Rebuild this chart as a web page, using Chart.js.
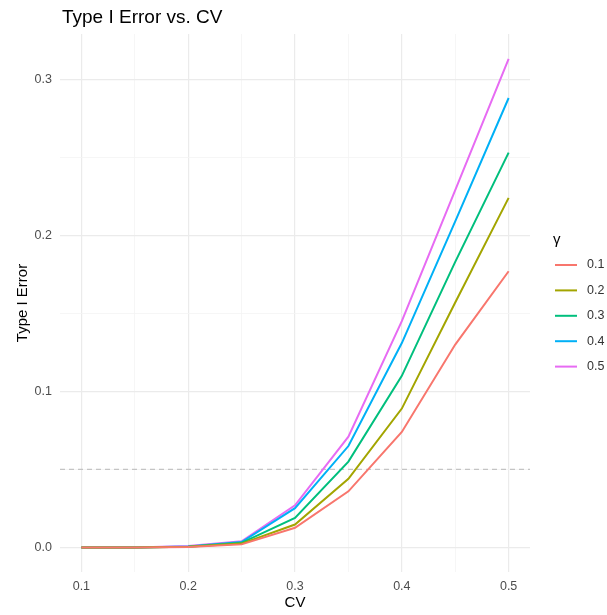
<!DOCTYPE html>
<html>
<head>
<meta charset="utf-8">
<script src="https://cdn.jsdelivr.net/npm/chart.js@4.4.0/dist/chart.umd.min.js"></script>
<style>
  html, body { margin: 0; padding: 0; background: #fff; }
</style>
</head>
<body>
<canvas id="chart" width="607" height="615"></canvas>
<script>
// values
const cv = [0.1, 0.15, 0.2, 0.25, 0.3, 0.35, 0.4, 0.45, 0.5];
const gammas = ['0.1', '0.2', '0.3', '0.4', '0.5'];
const errG1 = [0, 0, 0.0003, 0.002, 0.0126, 0.036, 0.074, 0.130, 0.177];
const errG2 = [0, 0, 0.0004, 0.0025, 0.0147, 0.044, 0.089, 0.157, 0.224];
const errG3 = [0, 0, 0.0005, 0.003, 0.019, 0.055, 0.110, 0.183, 0.253];
const errG4 = [0, 0, 0.0007, 0.0035, 0.0252, 0.065, 0.131, 0.209, 0.288];
const errG5 = [0, 0, 0.001, 0.004, 0.027, 0.071, 0.145, 0.229, 0.313];
const xTicks = [0.1, 0.15, 0.2, 0.25, 0.3, 0.35, 0.4, 0.45, 0.5];
const yTicks = [0, 0.05, 0.1, 0.15, 0.2, 0.25, 0.3];
const alpha = 0.05;

const colors = ['#F8766D', '#A3A500', '#00BF7D', '#00B0F6', '#E76BF3'];
const font = '"Liberation Sans", Arial, sans-serif';
Chart.defaults.font.family = font;

const allSeries = [errG1, errG2, errG3, errG4, errG5];

function isMajor(v) {
  return Math.abs(v * 10 - Math.round(v * 10)) < 1e-6;
}

const gridColor = ctx => isMajor(ctx.tick.value) ? '#ebebeb' : '#f4f4f4';
const gridWidth = ctx => isMajor(ctx.tick.value) ? 1.2 : 0.8;

const ggExtras = {
  id: 'ggExtras',
  beforeDatasetsDraw(chart) {
    const {ctx, chartArea, scales} = chart;
    const y = scales.y.getPixelForValue(alpha);
    ctx.save();
    ctx.strokeStyle = '#c4c4c4';
    ctx.lineWidth = 1.2;
    ctx.setLineDash([5, 4]);
    ctx.beginPath();
    ctx.moveTo(chartArea.left, y);
    ctx.lineTo(chartArea.right, y);
    ctx.stroke();
    ctx.restore();
  },
  afterDraw(chart) {
    const {ctx, chartArea} = chart;
    ctx.save();
    // title
    ctx.fillStyle = '#000';
    ctx.font = '19px ' + font;
    ctx.textBaseline = 'alphabetic';
    ctx.textAlign = 'left';
    ctx.fillText('Type I Error vs. CV', chartArea.left + 2, 23);

    // legend
    const mid = (chartArea.top + chartArea.bottom) / 2;
    const lx = chartArea.right + 23;
    ctx.textBaseline = 'middle';
    ctx.font = '15px ' + font;
    ctx.fillStyle = '#000';
    ctx.fillText('γ', lx, mid - 63);
    ctx.font = '12.5px ' + font;
    chart.data.datasets.forEach((ds, i) => {
      const y = mid - 38 + i * 25.4;
      ctx.strokeStyle = ds.borderColor;
      ctx.lineWidth = 2;
      ctx.beginPath();
      ctx.moveTo(lx + 2, y);
      ctx.lineTo(lx + 24, y);
      ctx.stroke();
      ctx.fillStyle = '#333';
      ctx.fillText(ds.label, lx + 34, y);
    });
    ctx.restore();
  }
};

new Chart(document.getElementById('chart').getContext('2d'), {
  type: 'line',
  data: {
    datasets: allSeries.map((vals, i) => ({
      label: gammas[i],
      data: vals.map((v, j) => ({x: cv[j], y: v})),
      borderColor: colors[i],
      backgroundColor: colors[i],
      borderWidth: 2,
      pointRadius: 0,
      tension: 0,
      fill: false
    }))
  },
  options: {
    responsive: false,
    animation: false,
    layout: { padding: { top: 34, right: 77, bottom: 0, left: 0 } },
    plugins: {
      legend: { display: false },
      title: { display: false },
      tooltip: { enabled: false }
    },
    scales: {
      x: {
        type: 'linear',
        min: 0.08,
        max: 0.52,
        afterBuildTicks: s => { s.ticks = xTicks.map(v => ({value: v})); },
        afterFit: s => { s.height = 43; },
        ticks: {
          callback: v => isMajor(v) ? v.toFixed(1) : '',
          autoSkip: false,
          maxRotation: 0,
          color: '#4d4d4d',
          font: { size: 12.5 },
          padding: 7
        },
        grid: { color: gridColor, lineWidth: gridWidth, drawTicks: false },
        border: { display: false },
        title: {
          display: true,
          text: 'CV',
          color: '#000',
          font: { size: 15 },
          padding: { top: 0, bottom: 3 }
        }
      },
      y: {
        min: -0.0157,
        max: 0.329,
        afterBuildTicks: s => { s.ticks = yTicks.map(v => ({value: v})); },
        afterFit: s => { s.width = 60; },
        ticks: {
          callback: v => isMajor(v) ? v.toFixed(1) : '',
          autoSkip: false,
          color: '#4d4d4d',
          font: { size: 12.5 },
          padding: 8
        },
        grid: { color: gridColor, lineWidth: gridWidth, drawTicks: false },
        border: { display: false },
        title: {
          display: true,
          text: 'Type I Error',
          color: '#000',
          font: { size: 15 },
          padding: { top: 14, bottom: 0 }
        }
      }
    }
  },
  plugins: [ggExtras]
});
</script>
</body>
</html>
